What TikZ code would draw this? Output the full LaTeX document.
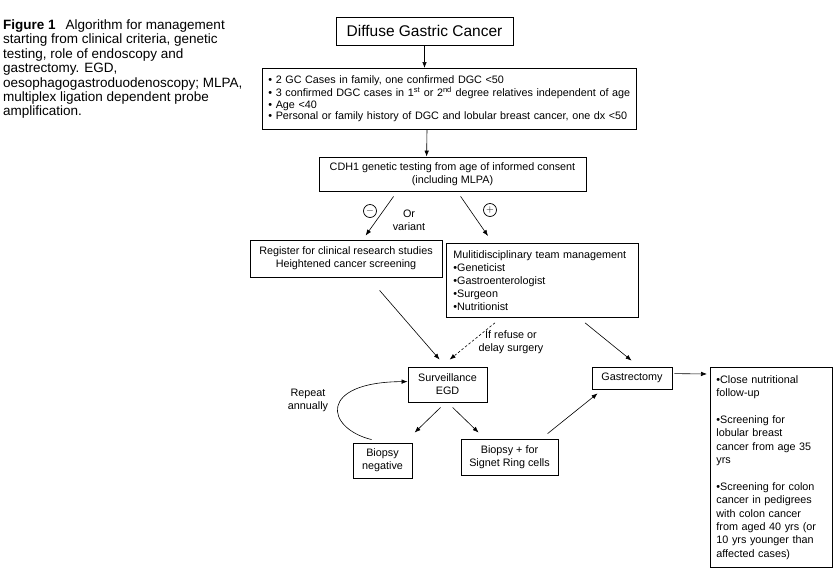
\documentclass[tikz,border=0pt]{standalone}
\usepackage{fontspec}
\setmainfont{Liberation Sans}
\usetikzlibrary{positioning}
\usetikzlibrary{arrows.meta}
\usetikzlibrary{calc}

\tikzset{
  box/.style={draw, line width=0.8pt, inner sep=0pt, font=\fontsize{10.8}{13}\selectfont},
  arr/.style={line width=0.6pt, -{Latex[length=6pt,width=4.5pt]}},
  sign/.style={circle, draw, line width=0.7pt, minimum size=13pt, inner sep=0pt, font=\normalsize},
  lbl/.style={align=center, inner sep=0pt, font=\fontsize{10.8}{13}\selectfont}
}

\begin{document}
\begin{tikzpicture}[x=1pt, y=-1pt]
  \useasboundingbox (0,0) rectangle (839,571);

  % caption
  \node[anchor=north west, align=left, inner sep=0pt, font=\fontsize{13.5}{14.4}\selectfont] (caption) at (3,19.5)
    {\textbf{Figure 1}\hspace{10pt}Algorithm for management\\
     starting from clinical criteria, genetic\\
     testing, role of endoscopy and\\
     gastrectomy. EGD,\\
     oesophagogastroduodenoscopy; MLPA,\\
     multiplex ligation dependent probe\\
     amplification.};

  % boxes
  \node[box, minimum width=177pt, minimum height=28pt, font=\fontsize{15.5}{18}\selectfont] (dgc) at (424.5,31) {Diffuse Gastric Cancer};
  \node[box, anchor=north west, text width=362pt, inner xsep=6pt, minimum height=61pt, align=left,
        font=\fontsize{10.8}{11.4}\selectfont] (crit) at (262,68)
    {• 2 GC Cases in family, one confirmed DGC <50\\
     • 3 confirmed DGC cases in 1\textsuperscript{st} or 2\textsuperscript{nd} degree relatives independent of age\\
     • Age <40\\
     • Personal or family history of DGC and lobular breast cancer, one dx <50};
  \node[box, minimum width=267pt, minimum height=34pt, align=center] (cdh) at (452.5,174)
    {CDH1 genetic testing from age of informed consent\\(including MLPA)};
  \node[box, minimum width=192pt, minimum height=37pt, align=center] (reg) at (346,258.5)
    {Register for clinical research studies\\Heightened cancer screening};
  \node[box, anchor=north west, text width=178pt, inner xsep=7pt, minimum height=74pt, align=left] (mdt) at (446,243)
    {Mulitidisciplinary team management\\•Geneticist\\•Gastroenterologist\\•Surgeon\\•Nutritionist};
  \node[box, minimum width=79pt, minimum height=35pt, align=center] (surv) at (447.5,384.5) {Surveillance\\EGD};
  \node[box, minimum width=80pt, minimum height=22pt] (gast) at (632,378) {Gastrectomy};
  \node[box, minimum width=59pt, minimum height=35pt, align=center] (bneg) at (382.5,460.5) {Biopsy\\negative};
  \node[box, minimum width=97pt, minimum height=36pt, align=center] (bpos) at (509.5,457) {Biopsy + for\\Signet Ring cells};
  \node[box, anchor=north west, text width=110pt, inner xsep=6pt, minimum height=200pt, align=left,
        font=\fontsize{10.8}{13.4}\selectfont] (follow) at (710,367)
    {•Close nutritional\\follow-up\\[13.4pt]
     •Screening for\\lobular breast\\cancer from age 35\\yrs\\[13.4pt]
     •Screening for colon\\cancer in pedigrees\\with colon cancer\\from aged 40 yrs (or\\10 yrs younger than\\affected cases)};

  % labels
  \node[sign] (minus) at (370,211) {$-$};
  \node[sign] (plus) at (490,210) {$+$};
  \node[lbl] (orvar) at (409,220.5) {Or\\variant};
  \node[lbl] (refuse) at (511,342.5) {If refuse or\\delay surgery};
  \node[lbl] (repeat) at (308,400) {Repeat\\annually};

  % connectors
  \draw[arr] (dgc.south) -- (dgc.south |- crit.north);
  \draw[arr] ($(crit.south west)+(165,0)$) -- ($(cdh.north west)+(108,0)$);
  \draw[arr] ($(cdh.south west)+(75,5)$) -- ($(reg.north west)+(116,-4)$);
  \draw[arr] ($(cdh.south west)+(142,5)$) -- ($(mdt.north west)+(42,-7)$);
  \draw[arr] ($(reg.south west)+(130,13)$) -- ($(surv.north west)+(32,-7)$);
  \draw[arr, dash pattern=on 2.5pt off 2pt] ($(mdt.south west)+(49,5)$) -- ($(surv.north west)+(42,-7)$);
  \draw[arr] ($(mdt.south west)+(139,5)$) -- ($(gast.north west)+(40,-6)$);
  \draw[arr] ($(surv.south west)+(33,5)$) -- ($(bneg.north west)+(62,-10)$);
  \draw[arr] ($(surv.south west)+(45,5)$) -- ($(bpos.north west)+(18,-6)$);
  \draw[arr] ($(bpos.north west)+(87,-5)$) -- ($(gast.south west)+(6,4)$);
  \draw[arr] ($(gast.north east)+(2,7)$) -- ($(follow.north west)+(-3,7)$);
  \draw[arr] ($(bneg.north west)+(19,-3)$) .. controls (325,428) and (318,382) .. ($(surv.north west)+(0,15)$);
\end{tikzpicture}
\end{document}
